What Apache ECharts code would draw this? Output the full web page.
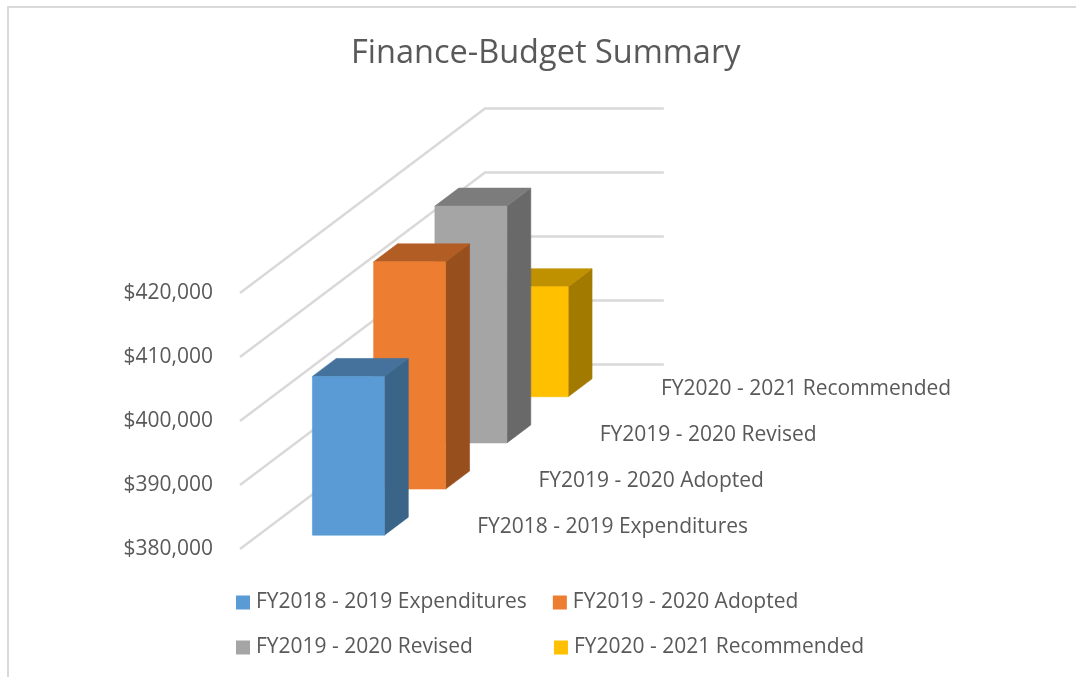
<!DOCTYPE html>
<html>
<head>
<meta charset="utf-8">
<style>html,body{margin:0;padding:0;background:#fff}#c{width:1076px;height:677px}</style>
<script src="https://cdn.jsdelivr.net/npm/echarts@6/dist/echarts.min.js"></script>
</head>
<body>
<div id="c"></div>
<script>
const chartTitle = 'Finance-Budget Summary';
const categories = ['FY2018 - 2019 Expenditures', 'FY2019 - 2020 Adopted', 'FY2019 - 2020 Revised', 'FY2020 - 2021 Recommended'];
const values = [404800, 415500, 417000, 397200];
const axisTicks = [380000, 390000, 400000, 410000, 420000];

const frontColors = ['#5b9bd5', '#ed7d31', '#a5a5a5', '#ffc000'];
const topColors = ['#44729d', '#b25d24', '#7c7c7c', '#bf9000'];
const sideColors = ['#3a6488', '#964f1d', '#696969', '#a37a00'];

const FONT = '"Open Sans", "Noto Sans", sans-serif';
const TEXT = '#595959';
const GRID = { left: 240, top: 293, width: 245, height: 256 };
const SLOPE = 184.5 / 245;      // floor rise per px of depth
const GAP = 0.3, DEPTH = 0.39;  // in bands
const LAT_OFF = 0.882, LAT_W = 1.1755;
const WALL = 2.92;              // side wall length in bands

const chart = echarts.init(document.getElementById('c'), null, { renderer: 'canvas' });

function project(x, d, y) { return [x + d, y - d * SLOPE]; }

function gridLineItem(params, api) {
  const band = api.size([1, 0])[0];
  const y = api.coord([0, api.value(0)])[1];
  const x0 = api.coord([0, axisTicks[0]])[0] - band / 2;
  const back = project(x0, band * categories.length, y);
  return {
    type: 'polyline',
    shape: { points: [[x0, y], back, [back[0] + band * WALL, back[1]]] },
    style: { stroke: '#d9d9d9', lineWidth: 2.4, fill: null }
  };
}

function barItem(idx) {
  return function (params, api) {
    const i = api.value(0);
    const band = api.size([1, 0])[0];
    const cx = api.coord([i, axisTicks[0]])[0];
    const x0 = api.coord([0, axisTicks[0]])[0] - band / 2;
    const yBase = api.coord([i, axisTicks[0]])[1];
    const yTop = api.coord([i, api.value(1)])[1];
    const d1 = cx - band / 2 - x0 + band * GAP;
    const d2 = d1 + band * DEPTH;
    const lx = x0 + band * LAT_OFF;
    const rx = lx + band * LAT_W;
    const a = project(lx, d1, yTop), b = project(rx, d1, yTop);
    const c = project(rx, d1, yBase), e = project(lx, d1, yBase);
    const bt = project(rx, d2, yTop), bb = project(rx, d2, yBase), lt = project(lx, d2, yTop);
    const face = (pts, col) => ({
      type: 'polygon', shape: { points: pts },
      style: { fill: col, stroke: col, lineWidth: 0.6 }
    });
    return {
      type: 'group',
      children: [
        face([b, bt, bb, c], sideColors[idx]),
        face([a, lt, bt, b], topColors[idx]),
        face([a, b, c, e], frontColors[idx]),
        {
          type: 'text',
          style: {
            x: c[0] + band * 1.515, y: c[1] - 8, text: categories[idx],
            fill: TEXT, fontSize: 21, fontFamily: FONT, align: 'left', verticalAlign: 'middle'
          }
        }
      ]
    };
  };
}

const series = [{
  type: 'custom', name: 'walls', coordinateSystem: 'cartesian2d', z: 1, silent: true,
  renderItem: gridLineItem, encode: { y: 0 }, data: axisTicks.map(v => [v])
}];
categories.forEach((name, i) => {
  series.push({
    type: 'custom', name: name, coordinateSystem: 'cartesian2d', z: 10 - i, silent: true,
    itemStyle: { color: frontColors[i] }, renderItem: barItem(i),
    encode: { x: 0, y: 1 }, data: [[i, values[i]]]
  });
});

function legendRow(names, top, gap) {
  return {
    data: names, left: 236, top: top, orient: 'horizontal', itemGap: gap,
    itemWidth: 14, itemHeight: 14, icon: 'rect', selectedMode: false,
    padding: 0,
    textStyle: { color: TEXT, fontSize: 21, fontFamily: FONT, padding: [0, 0, 0, 1] }
  };
}

chart.setOption({
  animation: false,
  backgroundColor: '#fff',
  title: {
    text: chartTitle, left: 346, top: 32,
    textStyle: { color: TEXT, fontSize: 32.5, fontWeight: 'normal', fontFamily: FONT }
  },
  grid: GRID,
  xAxis: { type: 'category', data: categories, show: false },
  yAxis: {
    type: 'value', min: axisTicks[0], max: axisTicks[axisTicks.length - 1], interval: 10000,
    axisLine: { show: false }, axisTick: { show: false }, splitLine: { show: false },
    axisLabel: {
      color: TEXT, fontSize: 21, fontFamily: FONT, margin: 27, padding: [4, 0, 0, 0],
      formatter: v => '$' + v.toLocaleString('en-US')
    }
  },
  legend: [
    legendRow([categories[0], categories[1]], 592, 26),
    legendRow([categories[2], categories[3]], 637, 81)
  ],
  graphic: [
    { type: 'line', silent: true, shape: { x1: 8, y1: 7, x2: 8, y2: 677 }, style: { stroke: '#d9d9d9', lineWidth: 2 } },
    { type: 'line', silent: true, shape: { x1: 7, y1: 7, x2: 1076, y2: 7 }, style: { stroke: '#d9d9d9', lineWidth: 2 } }
  ],
  series: series
});
</script>
</body>
</html>
